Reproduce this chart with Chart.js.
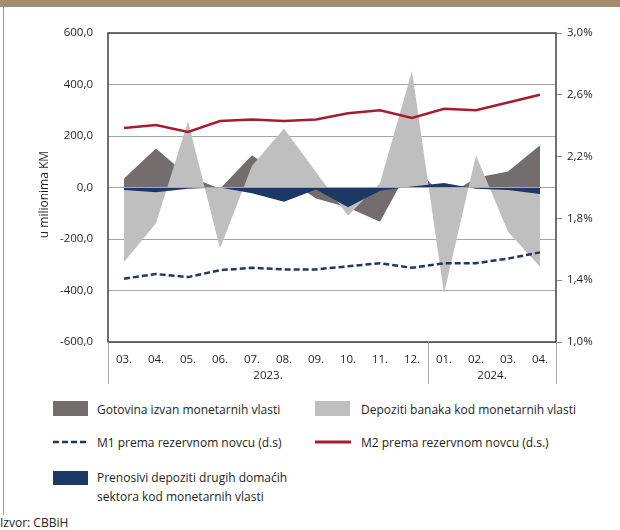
<!DOCTYPE html>
<html>
<head>
<meta charset="utf-8">
<script src="https://cdn.jsdelivr.net/npm/chart.js@4"></script>
<style>
  body { margin: 0; width: 620px; height: 530px; position: relative; overflow: hidden; background: #fff;
         font-family: 'Open Sans', sans-serif; color: #231f20; }
  #traka { position: absolute; left: 0; top: 0; width: 620px; height: 7px; background: #a58b6f; }
  #rub { position: absolute; left: 3px; top: 7px; width: 1px; height: 508px; background: #9a9a9a; }
  #okvirGrafa { position: absolute; left: 0; top: 0; width: 620px; height: 400px; }
  .leg { position: absolute; font-size: 12px; line-height: 19px; white-space: nowrap; }
  .kut { position: absolute; width: 35px; height: 15px; }
  svg { position: absolute; }
  #izvor { position: absolute; left: 0; top: 514px; font-size: 12px; }
</style>
</head>
<body>
<div id="traka"></div>
<div id="rub"></div>
<div id="okvirGrafa"><canvas id="grafik" width="620" height="400"></canvas></div>

<div class="kut" style="left:53px; top:401px; background:#736e6d"></div>
<div class="leg" style="left:97px; top:400px">Gotovina izvan monetarnih vlasti</div>
<div class="kut" style="left:315px; top:401px; background:#bfbfbf"></div>
<div class="leg" style="left:361px; top:400px">Depoziti banaka kod monetarnih vlasti</div>

<svg style="left:52px; top:437px" width="38" height="10"><line x1="1" y1="5" x2="37" y2="5" stroke="#1f3864" stroke-width="2.5" stroke-dasharray="6,3"/></svg>
<div class="leg" style="left:97px; top:433px">M1 prema rezervnom novcu (d.s)</div>
<svg style="left:314px; top:437px" width="38" height="10"><line x1="1" y1="5" x2="37" y2="5" stroke="#a51c30" stroke-width="3"/></svg>
<div class="leg" style="left:361px; top:433px">M2 prema rezervnom novcu (d.s.)</div>

<div class="kut" style="left:53px; top:471px; height:14px; background:#1c3864"></div>
<div class="leg" style="left:97px; top:468px">Prenosivi depoziti drugih domaćih<br>sektora kod monetarnih vlasti</div>

<div id="izvor">Izvor: CBBiH</div>

<script>
// mjeseci i godine
const mjeseci = ['03.', '04.', '05.', '06.', '07.', '08.', '09.', '10.', '11.', '12.', '01.', '02.', '03.', '04.'];
const godine = ['2023.', '2024.'];
const pocetakGodine = [0, 10];

// u milionima KM (lijeva skala)
const gotovina = [35, 151, 45, -5, 125, 40, -43, -78, -133, 95, -40, 38, 62, 164];
const depoziti = [-289, -139, 257, -237, 84, 229, 60, -110, 17, 452, -412, 125, -172, -308];
const prenosivi = [-10, -18, -5, 0, -22, -55, -8, -77, -13, 4, 17, -5, -10, -25];

// desna skala, %
const m1 = [1.41, 1.44, 1.42, 1.465, 1.48, 1.47, 1.47, 1.49, 1.51, 1.48, 1.51, 1.51, 1.54, 1.58];
const m2 = [2.385, 2.405, 2.36, 2.43, 2.44, 2.43, 2.44, 2.48, 2.50, 2.45, 2.51, 2.50, 2.55, 2.60];

const tekst = '#231f20';
const font = { family: "'Open Sans', sans-serif", size: 11.5 };
const zarez = v => v.toFixed(1).replace('.', ',');

// okvir, nulta linija, naslov osi, razdjelnici i godine ispod osi
const okvir = {
  id: 'okvir',
  afterDatasetsDraw(chart) {
    const { ctx, chartArea: a, scales } = chart;
    const x = scales.x;
    ctx.save();
    const y0 = scales.y.getPixelForValue(0);
    ctx.strokeStyle = '#a6a6a6';
    ctx.lineWidth = 1;
    ctx.beginPath();
    ctx.moveTo(a.left, y0);
    ctx.lineTo(a.right, y0);
    ctx.stroke();

    ctx.strokeStyle = '#404040';
    ctx.lineWidth = 1.5;
    ctx.strokeRect(a.left, a.top, a.width, a.height);

    // razdjelnici
    const granice = [a.left];
    for (let i = 1; i < pocetakGodine.length; i++) {
      const k = pocetakGodine[i];
      granice.push((x.getPixelForValue(k - 1) + x.getPixelForValue(k)) / 2);
    }
    granice.push(a.right);
    ctx.strokeStyle = '#a6a6a6';
    ctx.lineWidth = 1;
    granice.forEach(gx => {
      ctx.beginPath();
      ctx.moveTo(Math.round(gx) + 0.5, a.bottom);
      ctx.lineTo(Math.round(gx) + 0.5, a.bottom + 42);
      ctx.stroke();
    });

    ctx.fillStyle = tekst;
    ctx.font = `${font.size}px ${font.family}`;
    ctx.textAlign = 'center';
    ctx.textBaseline = 'middle';
    godine.forEach((g, i) => {
      const od = pocetakGodine[i];
      const doK = i + 1 < pocetakGodine.length ? pocetakGodine[i + 1] - 1 : mjeseci.length - 1;
      const sx = (x.getPixelForValue(od) + x.getPixelForValue(doK)) / 2;
      ctx.fillText(g, sx, a.bottom + 34);
    });

    // naslov lijeve osi
    ctx.font = `12px ${font.family}`;
    ctx.translate(45, (a.top + a.bottom) / 2 + 7);
    ctx.rotate(-Math.PI / 2);
    ctx.fillText('u milionima KM', 0, 0);
    ctx.restore();
  }
};

const povrsina = (label, data, boja, order) => ({
  label, data, order,
  yAxisID: 'y',
  fill: 'origin',
  backgroundColor: boja,
  borderWidth: 0,
  pointRadius: 0,
  tension: 0
});

new Chart(document.getElementById('grafik'), {
  type: 'line',
  data: {
    labels: mjeseci,
    datasets: [
      {
        label: 'M2 prema rezervnom novcu (d.s.)',
        data: m2, yAxisID: 'y1', order: 0,
        borderColor: '#a51c30', borderWidth: 2.5, pointRadius: 0, fill: false, tension: 0
      },
      {
        label: 'M1 prema rezervnom novcu (d.s)',
        data: m1, yAxisID: 'y1', order: 1,
        borderColor: '#1f3864', borderWidth: 2.5, borderDash: [6, 3], pointRadius: 0, fill: false, tension: 0
      },
      povrsina('Prenosivi depoziti drugih domaćih sektora kod monetarnih vlasti', prenosivi, '#1c3864', 2),
      povrsina('Depoziti banaka kod monetarnih vlasti', depoziti, '#bfbfbf', 3),
      povrsina('Gotovina izvan monetarnih vlasti', gotovina, '#736e6d', 4)
    ]
  },
  options: {
    responsive: false,
    animation: false,
    layout: { padding: { top: 33 } },
    plugins: { legend: { display: false }, tooltip: { enabled: false } },
    scales: {
      x: {
        offset: true,
        grid: { display: false },
        border: { display: false },
        ticks: { color: tekst, font, padding: 3, maxRotation: 0, autoSkip: false },
        afterFit(s) { s.height = 58; }
      },
      y: {
        position: 'left',
        min: -600, max: 600,
        grid: { color: '#a6a6a6', drawTicks: false },
        border: { display: false },
        ticks: { stepSize: 200, color: tekst, font, padding: 15, callback: v => zarez(v) },
        afterFit(s) { s.width = 108; }
      },
      y1: {
        position: 'right',
        min: 1, max: 3,
        grid: { drawOnChartArea: false, tickLength: 6, color: '#8c8c8c' },
        border: { display: false },
        ticks: { stepSize: 0.4, color: tekst, font, padding: 5, callback: v => zarez(v) + '%' },
        afterFit(s) { s.width = 64; }
      }
    }
  },
  plugins: [okvir]
});
</script>
</body>
</html>
